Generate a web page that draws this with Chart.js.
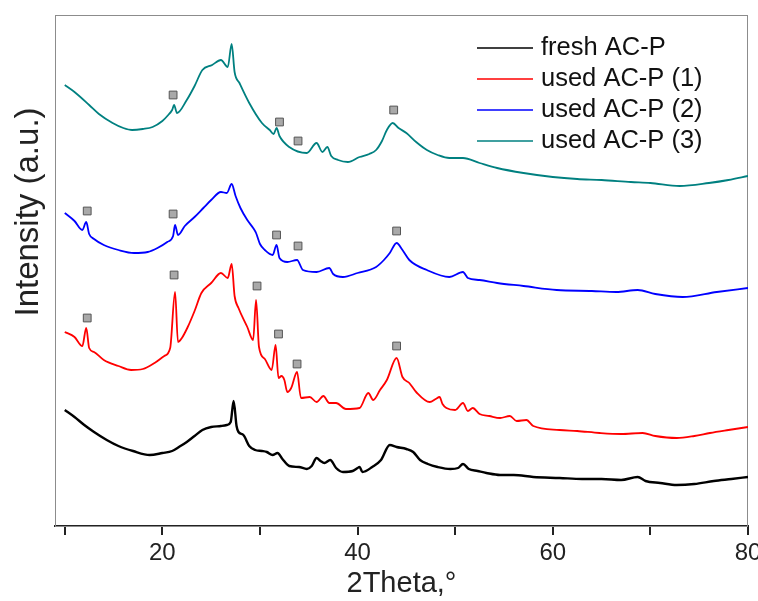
<!DOCTYPE html>
<html>
<head>
<meta charset="utf-8">
<script src="https://cdn.jsdelivr.net/npm/chart.js@4.4.0/dist/chart.umd.min.js"></script>
<style>
	html, body { margin: 0; padding: 0; background: #fff; }
	#wrap { width: 758px; height: 601px; }
</style>
</head>
<body>
<div id="wrap"><canvas id="xrd-chart"></canvas></div>
<script>
// 2Theta (deg) and intensity (a.u., offset stacked)
var freshX = [10, 11, 12, 13, 14.3, 15.5, 17, 18.7, 20, 21, 21.7, 22.5, 23.3, 24.1, 25, 26, 26.6, 27, 27.3, 27.6, 27.8, 28.3, 28.9, 29.5, 30.2, 30.7, 31.3, 31.8, 32.3, 33, 34, 34.8, 35.3, 35.8, 36.2, 36.6, 37.2, 37.8, 38.5, 39.5, 40, 40.2, 40.5, 41.5, 42.4, 43.3, 44, 45, 45.7, 46.4, 47.2, 48.2, 49.5, 50.3, 50.8, 51.4, 52.3, 53.2, 54.6, 56, 58, 60.7, 63, 65, 67, 68.7, 69.5, 71, 72.7, 74.5, 76.5, 78.3, 80];
var freshY = [116, 109, 101, 94, 86, 80, 75, 71, 73, 75, 79, 84, 90, 96, 99, 100, 101, 104, 125, 100, 94, 91, 80, 76, 75, 74, 71, 73, 67, 60, 59, 57, 60, 68, 65, 63, 66, 58, 54, 55, 58, 59, 54, 59, 66, 81, 79, 77, 74, 66, 62, 59, 57, 58, 62, 57, 55, 53, 51, 51, 49, 48, 47, 47, 46, 49, 45, 43, 41, 42, 45, 47, 49];

var used1X = [10, 11, 11.8, 12.2, 12.5, 13, 14, 15.5, 16.8, 18, 19.2, 20.2, 20.8, 21.3, 21.6, 22, 22.6, 23.3, 24, 25, 26, 26.7, 27.1, 27.4, 27.8, 28.7, 29.3, 29.6, 29.9, 30.5, 31.2, 31.6, 31.9, 32.2, 32.5, 32.8, 33.2, 33.8, 34.2, 35.1, 35.8, 36.5, 37.1, 37.8, 38.8, 40.2, 41.1, 41.6, 42.3, 43, 44, 44.6, 45.3, 46, 47.4, 48, 48.4, 48.7, 49.1, 50, 50.8, 51.3, 51.8, 52.5, 53.5, 54.6, 55.6, 56.3, 57.3, 58, 60.7, 62.5, 64.8, 67, 69.2, 70.5, 72.7, 74.5, 76.1, 78, 80];
var used1Y = [194, 189, 180, 198, 178, 174, 166, 160, 156, 157, 163, 170, 178, 234, 184, 188, 199, 215, 233, 243, 253, 248, 262, 230, 218, 199, 186, 226, 179, 167, 156, 181, 148, 150, 146, 134, 138, 154, 128, 129, 124, 130, 123, 123, 117, 118, 133, 126, 136, 146, 168, 149, 143, 134, 124, 127, 129, 122, 118, 116, 123, 115, 118, 112, 110, 108, 110, 105, 106, 100, 96, 95, 93, 92, 93, 90, 88, 90, 93, 96, 99];

var used2X = [10, 11, 11.8, 12.2, 12.5, 13, 14, 15.5, 17.1, 18.5, 19.5, 20.5, 21.1, 21.3, 21.6, 22.3, 23.3, 24.2, 25, 26, 26.6, 27.1, 27.5, 28, 28.7, 29.3, 29.6, 30, 30.5, 31.3, 31.7, 32, 32.8, 33.8, 34.4, 35.8, 37.1, 37.5, 38.5, 40, 41.9, 42.7, 43.3, 44, 44.6, 45.3, 47.1, 49.4, 50.8, 51.3, 52.5, 54.3, 57, 60.4, 64, 66.5, 68.7, 70.5, 73.3, 76.8, 80];
var used2Y = [313, 305, 296, 304, 292, 287, 281, 276, 273, 274, 278, 284, 290, 301, 291, 300, 309, 318, 326, 334, 333, 342, 330, 318, 306, 298, 293, 282, 276, 271, 281, 268, 264, 266, 256, 254, 258, 252, 249, 253, 259, 266, 273, 283, 276, 266, 256, 249, 254, 248, 246, 243, 240, 236, 235, 234, 236, 232, 229, 234, 238];

var used3X = [10, 11, 12.5, 13.5, 14.9, 16, 16.9, 18, 19, 20, 20.6, 21, 21.2, 21.5, 22.5, 23.3, 24.1, 25.1, 26, 26.7, 27.1, 27.4, 27.9, 28.9, 30.2, 31, 31.4, 31.7, 32, 33, 34.8, 35.8, 36.4, 36.9, 37.3, 38, 39, 40.2, 41.2, 41.9, 42.5, 43, 43.6, 44.2, 45, 46, 47.1, 48.2, 49.4, 50.8, 52.5, 54.3, 57, 60, 62.5, 65, 68, 70, 73, 76, 78, 80];
var used3Y = [441, 434, 421, 412, 403, 398, 396, 397, 399, 405, 411, 416, 421, 413, 426, 440, 456, 461, 466, 459, 482, 454, 443, 423, 403, 396, 392, 398, 390, 379, 373, 383, 374, 379, 370, 366, 364, 369, 372, 376, 385, 396, 403, 398, 393, 384, 376, 371, 368, 368, 363, 358, 353, 349, 347, 346, 344, 343, 340, 343, 346, 350];

// grey square markers above the crystalline peaks
var markerX = [21.1, 32.0, 33.9, 43.7, 12.3, 21.1, 31.7, 33.9, 44.0, 12.3, 21.2, 29.7, 31.9, 33.8, 44.0];
var markerY = [431, 404, 385, 416, 315, 312, 291, 280, 295, 208, 251, 240, 192, 162, 180];

var seriesNames = ['fresh AC-P', 'used AC-P (1)', 'used AC-P (2)', 'used AC-P (3)'];
var seriesColors = ['#000000', '#ff0000', '#0000ff', '#008080'];
var xTicks = [10, 20, 30, 40, 50, 60, 70, 80];

var FONT = '"Liberation Sans", Arial, sans-serif';

function toPoints(xs, ys) {
	return xs.map(function (x, i) { return {x: x, y: ys[i]}; });
}

var seriesData = [toPoints(freshX, freshY), toPoints(used1X, used1Y), toPoints(used2X, used2Y), toPoints(used3X, used3Y)];

var datasets = [{
	label: 'markers',
	data: toPoints(markerX, markerY),
	showLine: false,
	pointStyle: 'rect',
	pointRadius: 5.5,
	backgroundColor: '#a9a9a9',
	borderColor: '#555555',
	borderWidth: 1
}];

seriesNames.forEach(function (name, i) {
	datasets.push({
		label: name,
		data: seriesData[i],
		showLine: true,
		borderColor: seriesColors[i],
		borderWidth: i === 0 ? 2.4 : 1.8,
		pointRadius: 0,
		cubicInterpolationMode: 'monotone',
		fill: false
	});
});

// grey frame on the top/left/right of the plot
var framePlugin = {
	id: 'frame',
	beforeDatasetsDraw: function (chart) {
		var a = chart.chartArea, ctx = chart.ctx;
		ctx.save();
		ctx.strokeStyle = '#8c8c8c';
		ctx.lineWidth = 1;
		ctx.strokeRect(a.left + 0.5, a.top + 0.5, a.right - a.left - 1, a.bottom - a.top);
		ctx.restore();
	}
};

// legend inside the plot (upper right) and the y title, which sits above centre
var textPlugin = {
	id: 'insideText',
	afterDraw: function (chart) {
		var ctx = chart.ctx;
		ctx.save();
		ctx.font = '25.5px ' + FONT;
		ctx.textBaseline = 'middle';
		ctx.fillStyle = '#111';
		seriesNames.forEach(function (name, i) {
			var y = 48 + i * 31;
			ctx.strokeStyle = seriesColors[i];
			ctx.lineWidth = 1.5;
			ctx.beginPath();
			ctx.moveTo(477, y);
			ctx.lineTo(533, y);
			ctx.stroke();
			ctx.fillText(name, 541, y);
		});

		ctx.translate(29, 212);
		ctx.rotate(-Math.PI / 2);
		ctx.font = '33px ' + FONT;
		ctx.textAlign = 'center';
		ctx.fillStyle = '#222';
		ctx.fillText('Intensity (a.u.)', 0, 0);
		ctx.restore();
	}
};

new Chart('xrd-chart', {
	type: 'scatter',
	data: { datasets: datasets },
	plugins: [framePlugin, textPlugin],
	options: {
		responsive: true,
		maintainAspectRatio: false,
		animation: false,
		layout: { padding: { left: 0, right: 10, top: 15, bottom: 0 } },
		plugins: {
			legend: { display: false },
			tooltip: { enabled: false }
		},
		scales: {
			x: {
				type: 'linear',
				min: 9,
				max: 80,
				afterBuildTicks: function (scale) {
					scale.ticks = xTicks.map(function (v) { return {value: v}; });
				},
				afterFit: function (scale) {
					scale.height = 75;
					scale.paddingLeft = 0;
					scale.paddingRight = 0;
				},
				border: { display: true, color: '#222', width: 2 },
				grid: { display: true, drawOnChartArea: false, drawTicks: true, tickLength: 9, color: '#222', lineWidth: 2 },
				ticks: {
					autoSkip: false,
					maxRotation: 0,
					padding: 4,
					color: '#222',
					font: { family: FONT, size: 24 },
					callback: function (v) { return v % 20 === 0 ? v : ''; }
				},
				title: {
					display: true,
					text: '2Theta,°',
					color: '#222',
					padding: { top: 0, bottom: 0 },
					font: { family: FONT, size: 29 }
				}
			},
			y: {
				type: 'linear',
				min: 0,
				max: 511,
				afterFit: function (scale) { scale.width = 55; },
				border: { display: true, color: '#8c8c8c', width: 1 },
				grid: { display: false },
				ticks: { display: false }
			}
		}
	}
});
</script>
</body>
</html>
